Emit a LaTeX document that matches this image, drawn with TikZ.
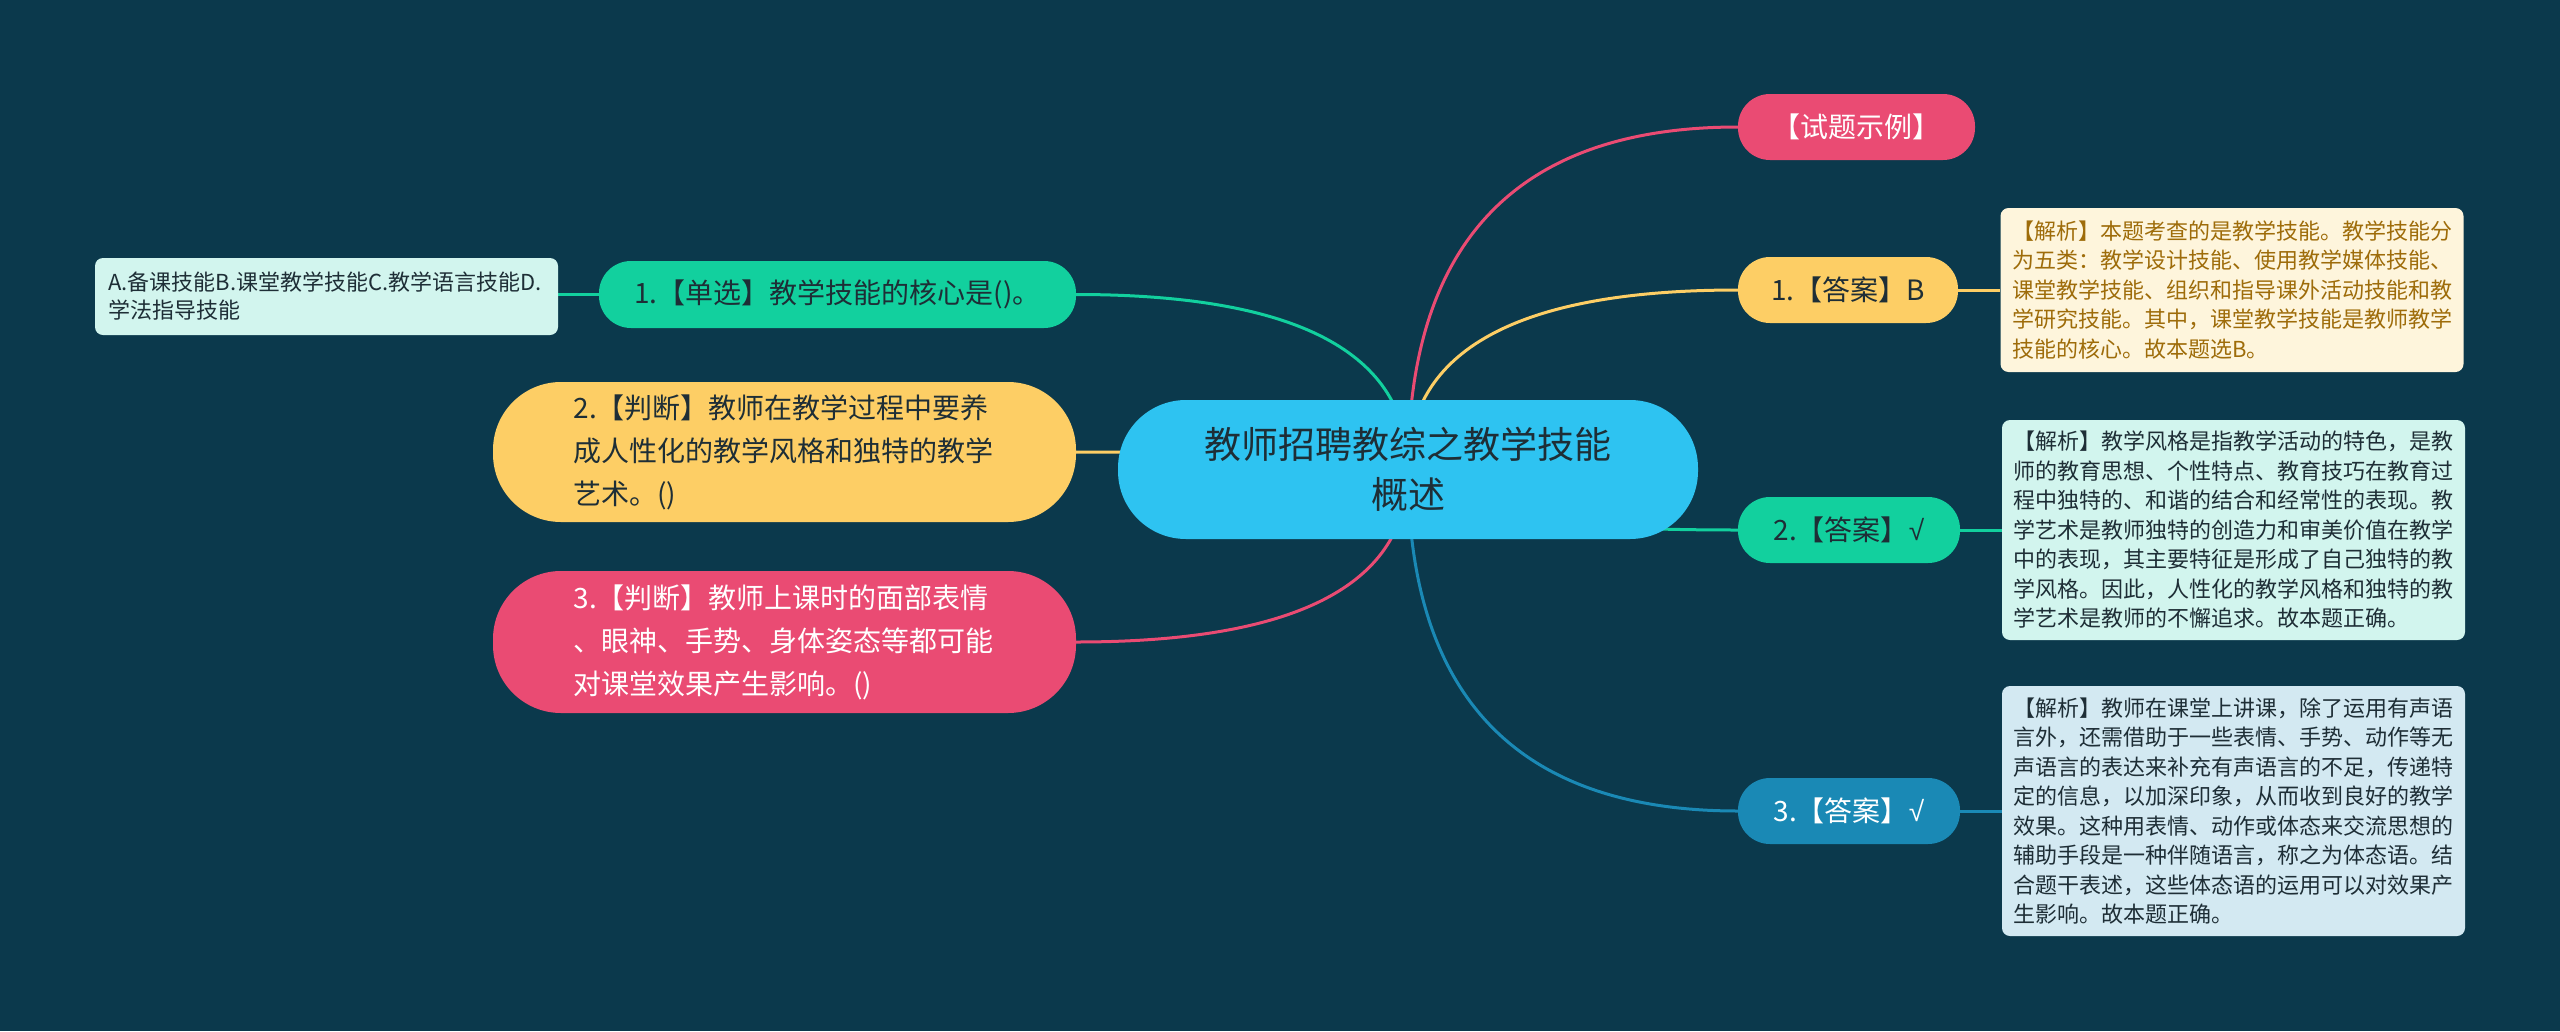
\documentclass[tikz,border=0pt]{standalone}
\usepackage{fontspec}
\setmainfont{Noto Sans CJK SC}
\newfontfamily\symf{Liberation Sans}
\usetikzlibrary{calc}
\definecolor{bgc}{HTML}{0B394C}
\definecolor{cblue}{HTML}{2EC3F1}
\definecolor{cpink}{HTML}{EA4B73}
\definecolor{cyel}{HTML}{FDCE65}
\definecolor{cgreen}{HTML}{12D09E}
\definecolor{cdblue}{HTML}{1A89B5}
\definecolor{tdark}{HTML}{1E2E36}
\definecolor{fyel}{HTML}{FEF5DC}
\definecolor{tyel}{HTML}{9E6C0A}
\definecolor{fgreen}{HTML}{D2F5EE}
\definecolor{fblue}{HTML}{D3E9F2}
\pgfdeclarelayer{back}
\pgfdeclarelayer{edges}
\pgfsetlayers{back,edges,main}
\begin{document}
\begin{tikzpicture}[x=1pt,y=-1pt,
  pill/.style={inner sep=0pt, align=center, minimum height=66pt, rounded corners=32pt, font=\fontsize{28}{43}\selectfont},
  bigpill/.style={inner sep=0pt, align=left, minimum width=583pt, rounded corners=68pt, font=\fontsize{28}{43}\selectfont, text width=422pt},
  note/.style={inner sep=0pt, align=left, rounded corners=8pt, font=\fontsize{22}{29.5}\selectfont, text width=440pt, minimum width=463pt},
  edge/.style={line width=3pt},
  branch/.style={to path={.. controls ($(\tikztostart)!0.6667!(\tikztostart |- \tikztotarget)$) and ($(\tikztotarget)!0.6667!(\tikztostart |- \tikztotarget)$) .. (\tikztotarget)}}
]
\begin{pgfonlayer}{back}
\fill[bgc] (0,0) rectangle (2560,1031);
\end{pgfonlayer}
\useasboundingbox (0,0) rectangle (2560,1031);

% center
\node[fill=cblue, rounded corners=68pt, minimum width=580pt, minimum height=139pt, inner sep=0pt,
  text=tdark, font=\fontsize{37}{50}\selectfont, align=center] (c) at (1408,469.5) {教师招聘教综之教学技能\\概述};

% right side
\node[pill, fill=cpink, text=white, minimum width=237pt] (s) at (1856.5,127) {【试题示例】};
\node[pill, fill=cyel, text=tdark, minimum width=220pt] (a1) at (1848,290) {1.【答案】B};
\node[pill, fill=cgreen, text=tdark, minimum width=222pt] (a2) at (1849,530) {2.【答案】{\symf √}};
\node[pill, fill=cdblue, text=white, minimum width=222pt] (a3) at (1849,811) {3.【答案】{\symf √}};

\node[note, fill=fyel, text=tyel, minimum height=164pt] (e1) at (2232,290) {【解析】本题考查的是教学技能。教学技能分\\为五类：教学设计技能、使用教学媒体技能、\\课堂教学技能、组织和指导课外活动技能和教\\学研究技能。其中，课堂教学技能是教师教学\\技能的核心。故本题选B。};
\node[note, fill=fgreen, text=tdark, minimum height=220pt] (e2) at (2233.5,530) {【解析】教学风格是指教学活动的特色，是教\\师的教育思想、个性特点、教育技巧在教育过\\程中独特的、和谐的结合和经常性的表现。教\\学艺术是教师独特的创造力和审美价值在教学\\中的表现，其主要特征是形成了自己独特的教\\学风格。因此，人性化的教学风格和独特的教\\学艺术是教师的不懈追求。故本题正确。};
\node[note, fill=fblue, text=tdark, minimum height=250pt] (e3) at (2233.5,811) {【解析】教师在课堂上讲课，除了运用有声语\\言外，还需借助于一些表情、手势、动作等无\\声语言的表达来补充有声语言的不足，传递特\\定的信息，以加深印象，从而收到良好的教学\\效果。这种用表情、动作或体态来交流思想的\\辅助手段是一种伴随语言，称之为体态语。结\\合题干表述，这些体态语的运用可以对效果产\\生影响。故本题正确。};

% left side
\node[pill, fill=cgreen, text=tdark, minimum width=477pt, minimum height=67pt] (q1) at (837.5,294.5) {1.【单选】教学技能的核心是()。};
\node[note, fill=fgreen, text=tdark, minimum height=77pt, text width=436pt, font=\fontsize{22}{28}\selectfont] (opt) at (326.5,296.5) {A.备课技能B.课堂教学技能C.教学语言技能D.\\学法指导技能};
\node[bigpill, fill=cyel, text=tdark, minimum height=140pt] (q2) at (784.5,452) {2.【判断】教师在教学过程中要养\\成人性化的教学风格和独特的教学\\艺术。()};
\node[bigpill, fill=cpink, text=white, minimum height=142pt] (q3) at (784.5,642) {3.【判断】教师上课时的面部表情\\、眼神、手势、身体姿态等都可能\\对课堂效果产生影响。()};

\begin{pgfonlayer}{edges}
\draw[edge, cpink] (c.center) to[branch] (s.west);
\draw[edge, cyel] (c.center) to[branch] (a1.west);
\draw[edge, cgreen] (c.center) to[branch] (a2.west);
\draw[edge, cdblue] (c.center) to[branch] (a3.west);
\draw[edge, cgreen] (c.center) to[branch] (q1.east);
\draw[edge, cyel] (c.center) to[branch] (q2.east);
\draw[edge, cpink] (c.center) to[branch] (q3.east);
\draw[edge, cyel] (a1.east) -- (a1.east -| e1.west);
\draw[edge, cgreen] (a2.east) -- (a2.east -| e2.west);
\draw[edge, cdblue] (a3.east) -- (a3.east -| e3.west);
\draw[edge, cgreen] (q1.west) -- (q1.west -| opt.east);
\end{pgfonlayer}
\end{tikzpicture}
\end{document}
